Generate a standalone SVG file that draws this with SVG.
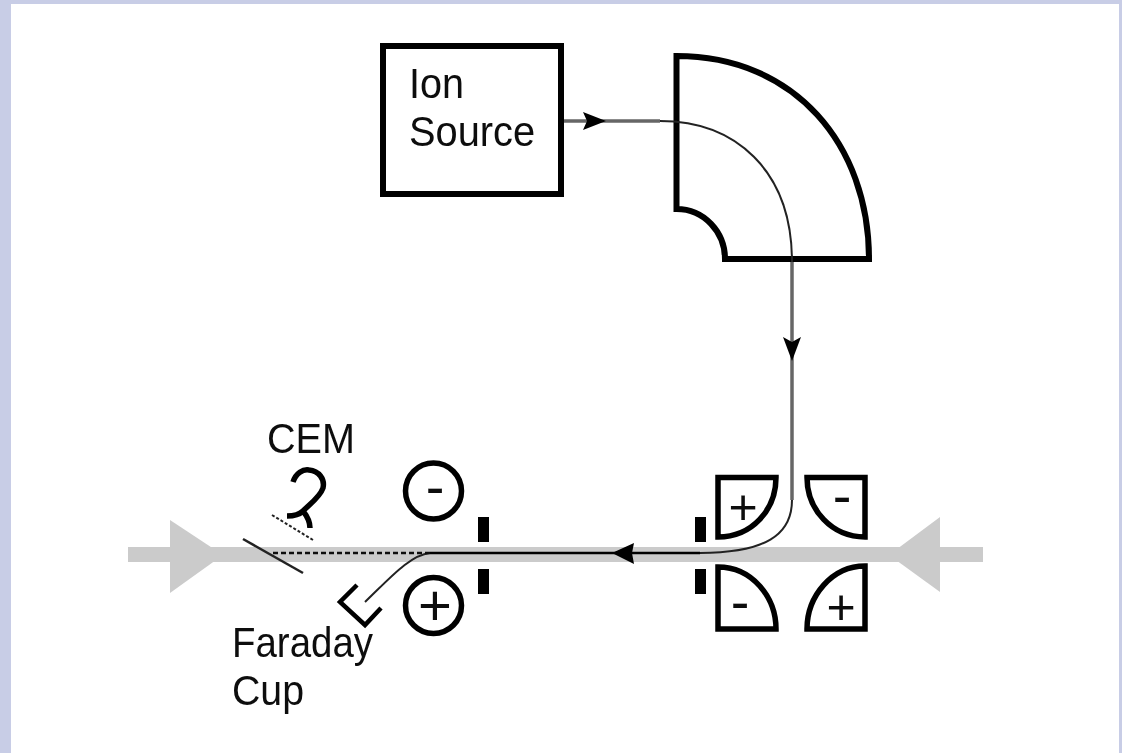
<svg xmlns="http://www.w3.org/2000/svg" width="1122" height="753" viewBox="0 0 1122 753">
<style>
.s{fill:none;stroke:#000;stroke-width:5.500}
.b{fill:#000;stroke:none}
.g{fill:#cbcbcb;stroke:none}
.t{font-family:"Liberation Sans",Arial,sans-serif;font-size:42px;fill:#111}
.p{font-size:50px;text-anchor:middle}
.n{font-size:56px;text-anchor:middle}
.beam{fill:none;stroke:#222;stroke-width:2}
.halo{fill:none;stroke:#666;stroke-width:3.500}
</style>
<defs>
<filter id="soft" x="-5%" y="-5%" width="110%" height="110%"><feGaussianBlur stdDeviation="0.55"/></filter>
</defs>
<rect width="1122" height="753" fill="#c8cde6"/>
<rect x="11" y="4" width="1108" height="749" fill="#fff"/>
<g filter="url(#soft)">
<g id="beamline-axis">
<rect class="g" x="128" y="547" width="855" height="15"/>
<path class="g" d="M170 520L223 555L170 593Z"/>
<path class="g" d="M940 517L889 555L940 592Z"/>
</g>
<g id="ion-source">
<rect class="s" x="383" y="46" width="178" height="148" style="stroke-width:6"/>
<text class="t" x="409" y="98" textLength="55" lengthAdjust="spacingAndGlyphs">Ion</text>
<text class="t" x="409" y="146" textLength="126" lengthAdjust="spacingAndGlyphs">Source</text>
</g>
<g id="magnet">
<path class="s" d="M676.500 56C795 56 869 145 869 259L725 259C725 232 704 209 676.500 209Z" style="stroke-width:6"/>
</g>
<g id="quad-tl">
<path class="s" d="M718 477.500L776 477.500C776 510 752 537 718 537Z"/>
<text class="t p" x="743" y="524">+</text>
</g>
<g id="quad-tr">
<path class="s" d="M807 477.500L865 477.500L865 537C832 537 807 510 807 477.500Z"/>
<text class="t n" x="842" y="515">-</text>
</g>
<g id="quad-bl">
<path class="s" d="M718 567C752 567 776 597 776 629L718 629Z"/>
<text class="t n" x="740" y="621">-</text>
</g>
<g id="quad-br">
<path class="s" d="M865 566C832 566 807 596 807 629L865 629Z"/>
<text class="t p" x="841" y="624">+</text>
</g>
<g id="slit-right">
<rect class="b" x="695" y="517" width="11" height="25"/>
<rect class="b" x="695" y="569" width="11" height="25"/>
</g>
<g id="slit-left">
<rect class="b" x="478" y="517" width="11" height="25"/>
<rect class="b" x="478" y="569" width="11" height="25"/>
</g>
<g id="deflector-minus">
<circle class="s" cx="433.500" cy="491" r="28"/>
<text class="t n" x="435" y="506">-</text>
</g>
<g id="deflector-plus">
<circle class="s" cx="433.500" cy="605.500" r="28"/>
<text class="t p" x="435" y="625" style="font-size:58px">+</text>
</g>
<g id="conversion-plate">
<path fill="none" stroke="#222" stroke-width="2.500" d="M243 539L303 573"/>
<path fill="none" stroke="#222" stroke-width="2" stroke-dasharray="3 2" d="M272 515L313 540"/>
</g>
<g id="cem">
<path fill="none" stroke="#000" stroke-width="5.500" d="M293 482C296 473 303 469 309 470C319 471 325 479 323 488C320 497 310 504 303 511M287 516C294 516 299 515 303 511C307 516 310 522 310 528"/>
<text class="t" x="267" y="453" textLength="88" lengthAdjust="spacingAndGlyphs">CEM</text>
</g>
<g id="faraday-cup">
<path fill="none" stroke="#000" stroke-width="4.500" d="M357 585L340 602L365 625L381 608"/>
<text class="t" x="232" y="657" textLength="141" lengthAdjust="spacingAndGlyphs">Faraday</text>
<text class="t" x="232" y="705" textLength="72" lengthAdjust="spacingAndGlyphs">Cup</text>
</g>
<g id="connectors">
<path class="halo" d="M564 121L660 121"/>
<path class="halo" d="M792 262L792 500"/>
<path class="beam" d="M660 121C735 121 792 170 792 262"/>
<path class="beam" d="M792 500C792 535 765 553 700 553"/>
<path fill="none" stroke="#000" stroke-width="2.500" d="M700 553L430 553"/>
<path class="beam" d="M430 553C410 555 390 578 365 602"/>
<path fill="none" stroke="#111" stroke-width="2.500" stroke-dasharray="5 3" d="M430 553L272 553"/>
<path class="b" d="M583 112L606 121L583 130L587 121Z"/>
<path class="b" d="M783 337L792 361L801 337L792 342Z"/>
<path class="b" d="M612 553L634 543L632 553L634 564Z"/>
</g>
</g>
</svg>
